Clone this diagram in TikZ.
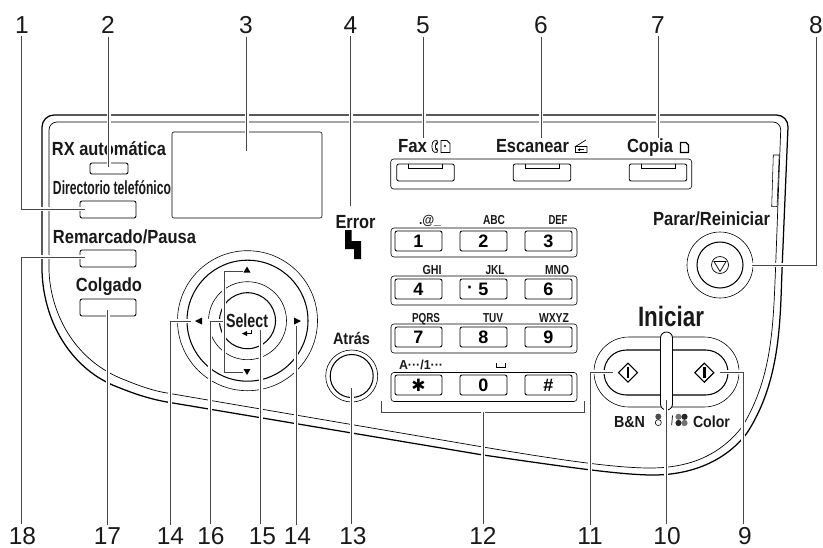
\documentclass[tikz,border=0pt]{standalone}
\usepackage{graphicx}
\usepackage{fontspec}
\setmainfont{Liberation Sans}
\newfontfamily\dejavu{DejaVu Sans}
\newcommand{\fsz}[1]{\fontsize{#1}{#1}\selectfont}
% name, x, y, width, size, text
\newcommand{\lbltxt}[6]{\node[txt,font=\bfseries\fsz{#5}] (#1) at (#2,#3) {\raisebox{0pt}[.716em][0pt]{\resizebox{#4pt}{\height}{#6}}};}
\tikzset{
  x=1pt,y=-1pt,
  txt/.style={inner sep=0pt,outer sep=0pt,text=black!90},
  num/.style={inner sep=0pt,outer sep=3pt,font=\fsz{24.5},text=black!90},
  leader/.style={draw=black!72,line width=0.85pt,preaction={draw=white,line width=4pt}},
  thinl/.style={draw=black,line width=0.55pt},
  thickl/.style={draw=black,line width=1.05pt},
  btn/.style={draw=black,line width=0.85pt,rounded corners=2pt,inner sep=0pt,fill=white},
  keyb/.style={btn,minimum width=47pt,minimum height=20pt},
  rowb/.style={draw=black,line width=0.6pt,rounded corners=3pt,inner sep=0pt,minimum width=186pt,minimum height=29pt},
  ring/.style={circle,inner sep=0pt},
  digit/.style={inner sep=0pt,font=\bfseries\fsz{18},text=black}
}
\begin{document}
\begin{tikzpicture}
\useasboundingbox (0,0) rectangle (823,547);
% panel outline
\draw[thickl,line width=1.25pt] [rounded corners=12pt] (42,270) -- (42,115) -- (788.5,115) -- (782,270) [sharp corners]
  .. controls (780,330) and (778,385) .. (747,433) .. controls (725,462) and (690,475) .. (653,475)
  .. controls (620,475) and (560,466) .. (483,455) -- (167,402) .. controls (150,399) and (135,394) .. (120,388)
  .. controls (70,370) and (43,320) .. (42,270) -- cycle;
\draw[thinl,line width=0.7pt] [rounded corners=8pt] (49,270) -- (49,122) -- (781,122) -- (775.5,270) [sharp corners]
  .. controls (773,330) and (771,380) .. (742,427) .. controls (720,455) and (690,468) .. (650,468)
  .. controls (615,468) and (560,460) .. (483,447) -- (167,393) .. controls (150,390) and (140,386) .. (125,380)
  .. controls (72,360) and (50,310) .. (49,270) -- cycle;
\draw[thinl] (773.3,155) -- (779.2,155) -- (777,206.7) -- (771.7,206.7) -- cycle;
% display
\node[draw=black,line width=0.6pt,rounded corners=2pt,inner sep=0pt,minimum width=150pt,minimum height=86pt] (display) at (247,175) {};
% left keys
\lbltxt{tRX}{109}{149}{114}{19}{RX automática}
\node[btn,minimum width=38pt,minimum height=11pt] (kRX) at (109,168.5) {};
\lbltxt{tDir}{112}{188}{118}{19}{Directorio telefónico}
\node[btn,minimum width=56pt,minimum height=17pt] (kDir) at (108,209.5) {};
\lbltxt{tRem}{124.5}{237}{143}{19}{Remarcado/Pausa}
\node[btn,minimum width=56pt,minimum height=17pt] (kRem) at (108,258.5) {};
\lbltxt{tCol}{109}{285}{66}{19}{Colgado}
\node[btn,minimum width=56pt,minimum height=17pt] (kCol) at (108,307.5) {};
% error
\lbltxt{tErr}{355.5}{222}{40}{19}{Error}
\fill (345,230) -- (351.5,230) -- (351.5,241) -- (361,241) -- (361,259) -- (354,259) -- (354,249) -- (345,249) -- cycle;
% function keys
\node[draw=black,line width=0.6pt,rounded corners=3pt,inner sep=0pt,minimum width=301pt,minimum height=30pt] (fgroup) at (541.2,174) {};
\foreach \n/\x in {Fax/425.5,Esc/542,Cop/658}{
  \node[btn,minimum width=57.5pt,minimum height=17pt] (k\n) at (\x,172.5) {};
  \draw[thinl,line width=0.7pt] (\x-17,164) -- (\x-17,168) -- (\x+17,168) -- (\x+17,164);
}
\lbltxt{tFax}{412.5}{146}{29}{19}{Fax}
\lbltxt{tEsc}{532.5}{146}{73}{19}{Escanear}
\lbltxt{tCop}{650}{146}{46}{19}{Copia}
% fax icon
\draw[line width=0.7pt,rounded corners=1.5pt] (436,140.5) .. controls (431,141) and (431,152) .. (436,152.5) -- (438,152) -- (437.5,149) -- (436,149.5) .. controls (435,147) and (435,146) .. (436,143.5) -- (437.5,144) -- (438,141) -- cycle;
\draw[line width=0.8pt] (441,140.5) -- (447,140.5) -- (450,143.5) -- (450,152.5) -- (441,152.5) -- cycle;
\fill (445,146) circle (1.1);
% scan icon
\draw[line width=0.7pt] (575.5,146.5) -- (575.5,152.5) -- (587,152.5) -- (587,146.5) -- (575.5,146.5) -- (586,140);
\draw[line width=0.6pt] (584,149.7) -- (579,149.7);
\fill (577.5,149.7) -- (580,148.2) -- (580,151.2) -- cycle;
% copy icon
\draw[line width=1.2pt] (680.5,142.5) -- (686,142.5) -- (688.5,145) -- (688.5,152.5) -- (680.5,152.5) -- cycle;
% keypad
\foreach \n/\y in {1/242.5,2/290.5,3/338.5,4/387}{
  \node[rowb] (row\n) at (484,\y) {};
}
\foreach \n/\x/\y/\d in {a/418.5/241/1,b/483.5/241/2,c/548.5/241/3,d/418.5/289/4,f/548.5/289/6,g/418.5/337/7,h/483.5/337/8,i/548.5/337/9,k/483.5/385/0,l/548.5/385/\#}{
  \node[keyb] (key\n) at (\x,\y) {};
  \node[digit] (dig\n) at (\x,\y) {\d};
}
\node[keyb] (keye) at (483.5,289) {};
\node[digit] (dige) at (483.5,289) {5};
\node[digit] (dotf) at (470,289.5) {·};
\node[keyb] (keyj) at (418.5,385) {};
\node[digit,font=\dejavu\bfseries\fsz{17}] (digj) at (418.5,385.5) {✱};
\lbltxt{la}{430}{220}{22}{13}{.@\_}
\lbltxt{lb}{494}{220}{22}{13}{ABC}
\lbltxt{lc}{558}{220}{19}{13}{DEF}
\lbltxt{ld}{432}{270}{19}{13}{GHI}
\lbltxt{le}{495}{270}{19}{13}{JKL}
\lbltxt{lf}{557}{270}{24}{13}{MNO}
\lbltxt{lg}{426}{318}{28}{13}{PQRS}
\lbltxt{lh}{493}{318}{20}{13}{TUV}
\lbltxt{li}{554}{318}{30}{13}{WXYZ}
\lbltxt{lj}{421}{365}{44}{13}{A···/1···}
\draw[line width=0.8pt] (496,363) -- (496,367.5) -- (505,367.5) -- (505,363);
% bracket
\draw[draw=black!72,line width=0.85pt] (381,401) -- (381,412) -- (584,412) -- (584,401);
\coordinate (br12) at (483,412);
% navigation ring
\node[ring,draw=black,line width=0.6pt,minimum size=140pt] (r1) at (247.5,320.7) {};
\node[ring,thickl,minimum size=121pt] (r2) at (247.5,320.7) {};
\node[ring,draw=black,line width=0.6pt,minimum size=78pt] (r3) at (247.5,320.7) {};
\node[ring,thickl,minimum size=56pt] (r4) at (247.5,320.7) {};
\fill (247,266.5) -- (250.5,272.5) -- (243.5,272.5) -- cycle;
\fill (247,375) -- (250.5,369) -- (243.5,369) -- cycle;
\fill (195,321) -- (202,317.5) -- (202,324.5) -- cycle;
\fill (301,321) -- (294,317.5) -- (294,324.5) -- cycle;
\lbltxt{tSel}{247}{321}{42}{19}{Select}
\draw[line width=0.9pt] (251.5,330) -- (251.5,333.5) -- (246,333.5);
\fill (242,333.5) -- (247,331) -- (247,336) -- cycle;
% back
\lbltxt{tAtr}{351.5}{339}{37}{16.5}{Atrás}
\node[ring,draw=black,line width=0.6pt,minimum size=52pt] (back1) at (351.7,376) {};
\node[ring,thickl,minimum size=43pt] (back2) at (351.7,376) {};
% stop
\lbltxt{tPar}{711.5}{219}{117}{19}{Parar/Reiniciar}
\node[ring,draw=black,line width=0.6pt,minimum size=66pt] (stop1) at (720,265) {};
\node[ring,thickl,minimum size=46pt] (stop2) at (720,265) {};
\node[ring,draw=black,line width=0.7pt,minimum size=17pt] (stop3) at (720,265) {};
\draw[line width=0.7pt] (714,261.5) -- (726,261.5) -- (720,271.5) -- cycle;
% start
\lbltxt{tIni}{671}{316}{66}{28}{Iniciar}
\node[draw=black,line width=0.6pt,rounded corners=34.9pt,inner sep=0pt,minimum width=145pt,minimum height=70pt] (cap1) at (666.5,372) {};
\node[thickl,rounded corners=22.4pt,inner sep=0pt,minimum width=124pt,minimum height=45pt] (cap2) at (666,372.5) {};
\node[draw=black,fill=white,line width=0.85pt,rounded corners=5.9pt,inner sep=0pt,minimum width=12pt,minimum height=78pt] (bar) at (666.5,371) {};
\foreach \n/\x in {L/628,R/704.3}{
  \coordinate (dm\n) at (\x,372.7);
  \draw[line width=1.1pt,fill=white] (\x-9.5,372.7) -- (\x,363.2) -- (\x+9.5,372.7) -- (\x,382.2) -- cycle;
  \fill (\x-1.2,367) rectangle (\x+1.2,378.4);
}
\lbltxt{tBN}{629.5}{421.7}{31}{16}{B\&N}
\lbltxt{tCo}{711.5}{421.7}{37}{16}{Color}
\fill[black!70] (658.3,416.6) circle (3);
\draw[line width=0.6pt] (658.3,422.6) circle (3);
\foreach \a/\b/\c in {678.5/416.8/black!55,684.5/416.8/black!85,678.5/423/black!85,684.5/423/black!55}{
  \fill[\c] (\a,\b) circle (3.1);
}
\draw[line width=0.7pt] (671.7,425) -- (672.5,415.5);
% numbers
\node[num] (n1) at (22,25) {1};
\node[num] (n2) at (108,25) {2};
\node[num] (n3) at (246,25) {3};
\node[num] (n4) at (350.5,25) {4};
\node[num] (n5) at (423,25) {5};
\node[num] (n6) at (541,25) {6};
\node[num] (n7) at (658,25) {7};
\node[num] (n8) at (816,25) {8};
\node[num] (n18) at (22.5,536) {18};
\node[num] (n17) at (107.5,536) {17};
\node[num] (n14a) at (170.5,536) {14};
\node[num] (n16) at (211,536) {16};
\node[num] (n15) at (262.5,536) {15};
\node[num] (n14b) at (297.5,536) {14};
\node[num] (n13) at (353,536) {13};
\node[num] (n12) at (483,536) {12};
\node[num] (n11) at (590,536) {11};
\node[num] (n10) at (667,536) {10};
\node[num] (n9) at (745,536) {9};
% leader ends
\coordinate (e1) at (85,209);
\coordinate (e2) at (108.5,167);
\coordinate (e3) at (246.5,151);
\coordinate (e4) at (350.5,206);
\coordinate (e5) at (423.5,138);
\coordinate (e6) at (541,138);
\coordinate (e7) at (658,138);
\coordinate (e8) at (752,265);
\coordinate (e18) at (85,257);
\coordinate (e17) at (107.7,310);
\coordinate (e14a) at (191,321);
\coordinate (e16) at (223,321);
\coordinate (e15) at (260.7,330);
\coordinate (e14b) at (296,326);
\coordinate (e13) at (351.7,388);
\coordinate (e11) at (612.7,372);
\coordinate (e10) at (666,400);
\coordinate (e9) at (720,372);
\coordinate (v1) at (243,271);
\coordinate (v2) at (243,372);
% leaders
\draw[leader] (n1.south -| 21.5,0) -- (21.5,209) -- (e1);
\draw[leader] (n2.south -| e2) -- (e2);
\draw[leader] (n3.south -| e3) -- (e3);
\draw[leader] (n4.south -| e4) -- (e4);
\draw[leader] (n5.south -| e5) -- (e5);
\draw[leader] (n6.south -| e6) -- (e6);
\draw[leader] (n7.south -| e7) -- (e7);
\draw[leader] (n8.south -| 816.7,0) -- (816.7,265) -- (e8);
\draw[leader] (n18.north -| 21.7,0) -- (21.7,257) -- (e18);
\draw[leader] (n17.north -| e17) -- (e17);
\draw[leader] (n14a.north -| 170,0) -- (170,321) -- (e14a);
\draw[leader] (v1) -- (224,271) -- (224,372) -- (v2);
\draw[leader] (n16.north -| 210,0) -- (210,321) -- (e16);
\draw[leader] (n15.north -| e15) -- (e15);
\draw[leader] (n14b.north -| e14b) -- (e14b);
\draw[leader] (n13.north -| e13) -- (e13);
\draw[leader] (n12.north -| br12) -- (br12);
\draw[leader] (n11.north -| 590,0) -- (590,372) -- (e11);
\draw[leader] (n10.north -| e10) -- (e10);
\draw[leader] (n9.north -| 743,0) -- (743,372) -- (e9);
\end{tikzpicture}
\end{document}
